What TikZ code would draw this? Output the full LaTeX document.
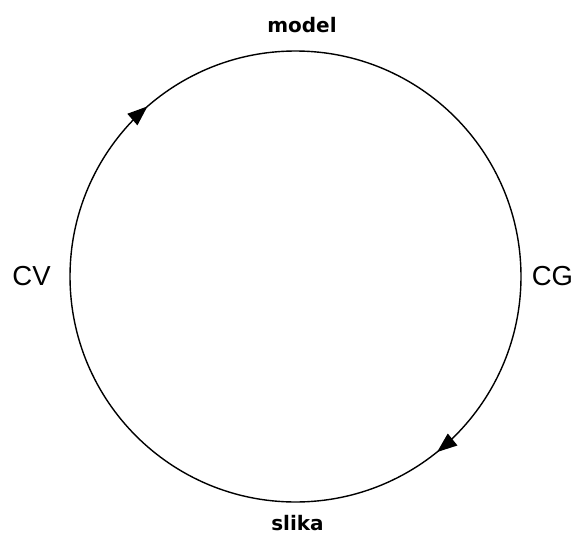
\documentclass[tikz,border=0pt]{standalone}
\usepackage{fontspec}
\usetikzlibrary{arrows.meta,decorations.markings}
\newfontfamily\toplabelfont{DejaVu Sans}
\newfontfamily\sidelabelfont{Liberation Sans}

\tikzset{
  cycleline/.style={line width=1.4pt, black},
  flowtips/.style={
    postaction={decorate},
    decoration={markings,
      mark=at position 0.392 with {\arrow{Triangle[length=20pt,width=15pt]}},
      mark=at position 0.886 with {\arrow{Triangle[length=20pt,width=15pt]}}}
  },
  toplabel/.style={anchor=base, inner sep=0pt, font=\toplabelfont\bfseries\fontsize{20}{24}\selectfont},
  sidelabel/.style={anchor=base, inner sep=0pt, font=\sidelabelfont\fontsize{27.5}{32}\selectfont}
}

\begin{document}
\begin{tikzpicture}[x=1pt,y=1pt]
  \useasboundingbox (0,0) rectangle (576,-538);

  % centre of the cycle
  \coordinate (c) at (295.5,-276.5);

  % the cycle, run clockwise from the top
  \draw[cycleline, flowtips] (c) ++(90:225.5)
    arc[start angle=90, end angle=-270, radius=225.5];

  % labels round the cycle
  \node[toplabel] (model) at (302,-32) {model};
  \node[toplabel] (slika) at (297.5,-530.5) {slika};
  \node[sidelabel] (cv) at (31.5,-285) {CV};
  \node[sidelabel] (cg) at (552.5,-285) {CG};
\end{tikzpicture}
\end{document}
